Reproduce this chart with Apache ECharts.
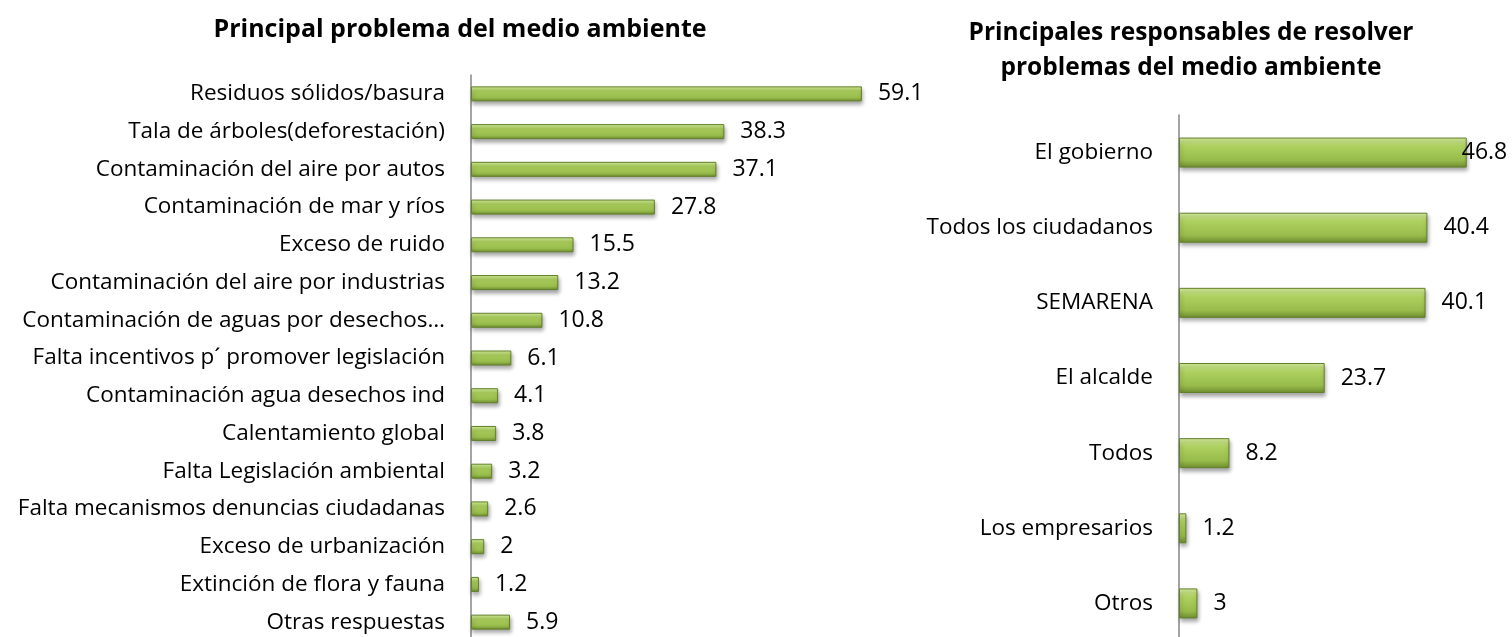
<!DOCTYPE html>
<html>
<head>
<meta charset="utf-8">
<script src="https://cdn.jsdelivr.net/npm/echarts@6/dist/echarts.min.js"></script>
<style>
  html, body { margin: 0; padding: 0; background: #fff; }
  #chart { width: 1512px; height: 637px; }
</style>
</head>
<body>
<div id="chart"></div>
<script>
// datos: principal problema del medio ambiente
const problemas = [
  'Residuos sólidos/basura',
  'Tala de árboles(deforestación)',
  'Contaminación del aire por autos',
  'Contaminación de mar y ríos',
  'Exceso de ruido',
  'Contaminación del aire por industrias',
  'Contaminación de aguas por desechos…',
  'Falta incentivos p´ promover legislación',
  'Contaminación agua desechos ind',
  'Calentamiento global',
  'Falta Legislación ambiental',
  'Falta mecanismos denuncias ciudadanas',
  'Exceso de urbanización',
  'Extinción de flora y fauna',
  'Otras respuestas'
]
const problemasVal = [59.1, 38.3, 37.1, 27.8, 15.5, 13.2, 10.8, 6.1, 4.1, 3.8, 3.2, 2.6, 2, 1.2, 5.9]

// datos: responsables
const responsables = [
  'El gobierno',
  'Todos los ciudadanos',
  'SEMARENA',
  'El alcalde',
  'Todos',
  'Los empresarios',
  'Otros'
]
const responsablesVal = [46.8, 40.4, 40.1, 23.7, 8.2, 1.2, 3]

const FONT = 'Open Sans'

const barStyle = {
  color: new echarts.graphic.LinearGradient(0, 0, 0, 1, [
    { offset: 0, color: '#d6ef9f' },
    { offset: 0.3, color: '#add05e' },
    { offset: 0.75, color: '#98bc4c' },
    { offset: 1, color: '#6e8c2f' }
  ]),
  borderColor: '#62802a',
  borderWidth: 1,
  shadowColor: 'rgba(0,0,0,0.35)',
  shadowBlur: 4,
  shadowOffsetX: 1,
  shadowOffsetY: 3
}

const valueLabel = {
  show: true,
  position: 'right',
  distance: 16,
  fontFamily: FONT,
  fontSize: 23,
  color: '#000'
}

const catAxis = (idx, data) => ({
  gridIndex: idx,
  type: 'category',
  inverse: true,
  data: data,
  axisLine: { lineStyle: { color: '#868686', width: 1.5 } },
  axisTick: { show: false },
  axisLabel: { margin: 26, fontFamily: FONT, fontSize: 22.5, color: '#000' }
})

const chart = echarts.init(document.getElementById('chart'))

chart.setOption({
  animation: false,
  title: [
    {
      text: 'Principal problema del medio ambiente',
      left: 455,
      top: 7,
      textAlign: 'center',
      textStyle: { fontFamily: FONT, fontWeight: 'bold', fontSize: 25, lineHeight: 35, color: '#000' }
    },
    {
      text: 'Principales responsables de resolver\nproblemas del medio ambiente',
      left: 1186,
      top: 11,
      textAlign: 'center',
      textStyle: { fontFamily: FONT, fontWeight: 'bold', fontSize: 24.5, lineHeight: 35, color: '#000' }
    }
  ],
  grid: [
    { left: 471, top: 75, width: 463, height: 566, outerBoundsMode: 'none' },
    { left: 1179, top: 115, width: 332, height: 526, outerBoundsMode: 'none' }
  ],
  xAxis: [
    { gridIndex: 0, type: 'value', min: 0, max: 70, show: false },
    { gridIndex: 1, type: 'value', min: 0, max: 54, show: false }
  ],
  yAxis: [
    catAxis(0, problemas),
    catAxis(1, responsables)
  ],
  series: [
    {
      type: 'bar',
      xAxisIndex: 0,
      yAxisIndex: 0,
      barWidth: 15,
      itemStyle: barStyle,
      label: valueLabel,
      data: problemasVal
    },
    {
      type: 'bar',
      xAxisIndex: 1,
      yAxisIndex: 1,
      barWidth: 30,
      itemStyle: barStyle,
      label: valueLabel,
      data: responsablesVal.map((v, i) => i === 0
        ? { value: v, label: { distance: -5 } }
        : v)
    }
  ]
})
</script>
</body>
</html>
